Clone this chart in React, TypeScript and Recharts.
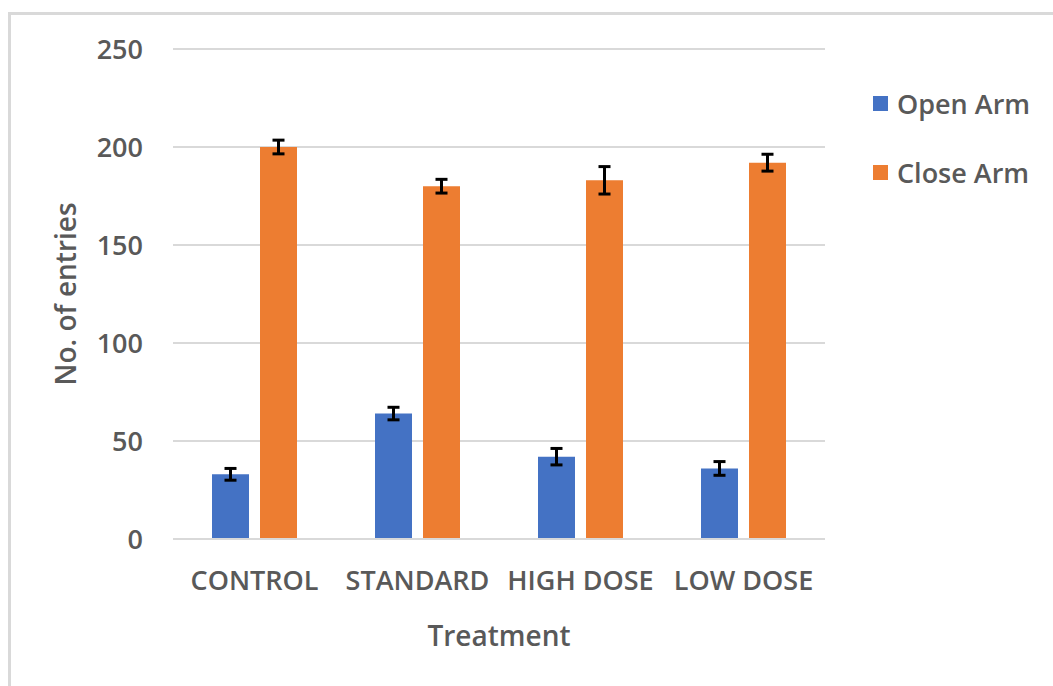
import { BarChart, Bar, XAxis, YAxis, CartesianGrid, ErrorBar, Legend } from 'recharts';

const treatments = ['CONTROL', 'STANDARD', 'HIGH DOSE', 'LOW DOSE'];
const openArm = [33, 64, 42, 36];
const openArmErr = [3, 3.2, 4.2, 3.5];
const closeArm = [200, 180, 183, 192];
const closeArmErr = [3.5, 3.5, 7, 4.3];
const yTicks = [0, 50, 100, 150, 200, 250];

const BLUE = '#4472C4';
const ORANGE = '#ED7D31';
const TEXT = '#595959';
const FONT = '"Open Sans", sans-serif';

const data = treatments.map((name, i) => ({
  name,
  open: openArm[i],
  openErr: openArmErr[i],
  close: closeArm[i],
  closeErr: closeArmErr[i],
}));

const legendItems = [
  { label: 'Open Arm', color: BLUE },
  { label: 'Close Arm', color: ORANGE },
];

function LegendBox() {
  return (
    <div style={{ fontFamily: FONT, fontWeight: 600, fontSize: 27, color: TEXT }}>
      {legendItems.map((item) => (
        <div key={item.label} style={{ display: 'flex', alignItems: 'center', height: 38, marginBottom: 31 }}>
          <div style={{ width: 15, height: 15, background: item.color, marginRight: 9 }} />
          <span>{item.label}</span>
        </div>
      ))}
    </div>
  );
}

export default function App() {
  const tickStyle = { fill: TEXT, fontSize: 27, fontWeight: 600, fontFamily: FONT };
  return (
    <div style={{ position: 'absolute', left: 0, top: 0, width: 1053, height: 686, background: '#fff' }}>
      <div
        style={{
          position: 'absolute',
          left: 8,
          top: 12,
          right: 0,
          bottom: 0,
          borderTop: '3px solid #d9d9d9',
          borderLeft: '3px solid #d9d9d9',
        }}
      />
      <BarChart
        width={1053}
        height={686}
        data={data}
        margin={{ top: 49, right: 48, left: 0, bottom: 0 }}
        barCategoryGap={39}
        barGap={11}
        style={{ position: 'absolute', left: 0, top: 0 }}
      >
        <CartesianGrid vertical={false} stroke="#d9d9d9" strokeWidth={2} />
        <XAxis
          dataKey="name"
          height={147}
          axisLine={{ stroke: '#d9d9d9', strokeWidth: 2 }}
          tickLine={false}
          tickSize={0}
          tickMargin={32}
          tick={tickStyle}
          interval={0}
          label={{
            value: 'Treatment',
            position: 'center',
            dy: 24,
            style: { fill: TEXT, fontSize: 28, fontWeight: 600, fontFamily: FONT },
          }}
        />
        <YAxis
          width={173}
          domain={[0, 250]}
          ticks={yTicks}
          axisLine={false}
          tickLine={false}
          tickSize={0}
          tickMargin={30}
          tick={tickStyle}
          label={{
            value: 'No. of entries',
            angle: -90,
            position: 'center',
            dx: -20,
            style: { fill: TEXT, fontSize: 28, fontWeight: 600, fontFamily: FONT, textAnchor: 'middle' },
          }}
        />
        <Legend
          layout="vertical"
          verticalAlign="top"
          align="right"
          content={<LegendBox />}
          wrapperStyle={{ left: 873, top: 84, width: 180 }}
        />
        <Bar dataKey="open" name="Open Arm" fill={BLUE} isAnimationActive={false}>
          <ErrorBar dataKey="openErr" width={6} strokeWidth={3} stroke="#000" />
        </Bar>
        <Bar dataKey="close" name="Close Arm" fill={ORANGE} isAnimationActive={false}>
          <ErrorBar dataKey="closeErr" width={6} strokeWidth={3} stroke="#000" />
        </Bar>
      </BarChart>
    </div>
  );
}
